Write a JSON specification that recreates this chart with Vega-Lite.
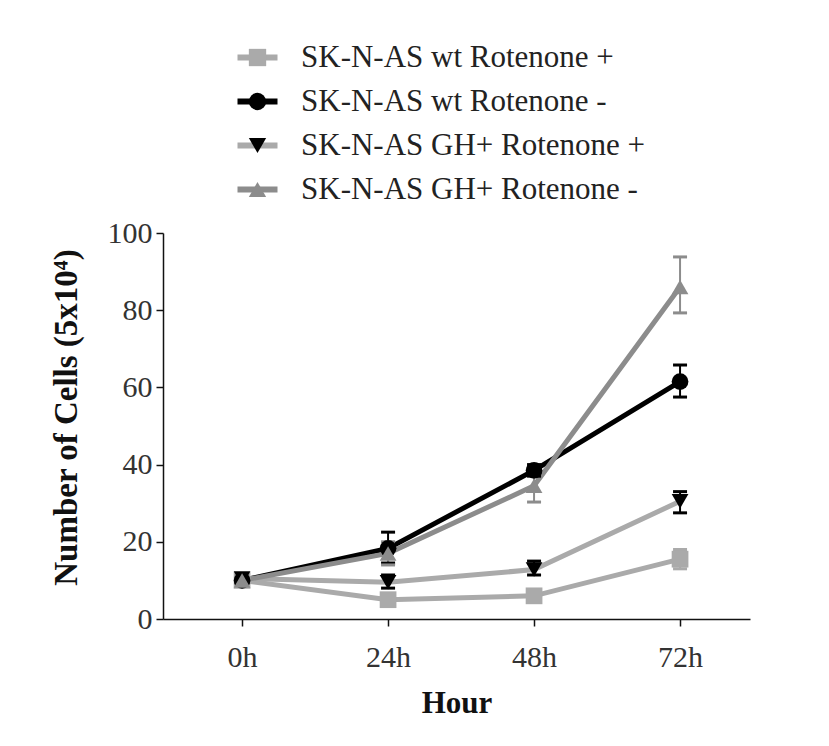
{
  "$schema": "https://vega.github.io/schema/vega-lite/v6.json",
  "autosize": {"type": "none"},
  "padding": {"left": 163, "top": 233, "right": 79, "bottom": 127},
  "width": 587,
  "height": 386,
  "background": "white",
  "config": {
    "font": "Liberation Serif",
    "view": {"stroke": null},
    "legend": {"labelFont": "Liberation Serif", "labelFontSize": 31, "labelLimit": 600},
    "axis": {"grid": false, "domainColor": "#111", "tickColor": "#111", "domainWidth": 1.5, "tickWidth": 1.5, "tickSize": 7, "labelColor": "#333", "labelFont": "Liberation Serif", "labelFontSize": 30, "titleFont": "Liberation Serif", "titleFontSize": 31, "titleFontWeight": "bold", "titleColor": "#111"}
  },
  "data": {
    "values": [
      {"hour": 0, "series": "SK-N-AS wt Rotenone +", "value": 10, "lo": null, "hi": null},
      {"hour": 24, "series": "SK-N-AS wt Rotenone +", "value": 5, "lo": 4, "hi": 6},
      {"hour": 48, "series": "SK-N-AS wt Rotenone +", "value": 6, "lo": 5, "hi": 7},
      {"hour": 72, "series": "SK-N-AS wt Rotenone +", "value": 15.5, "lo": 13, "hi": 18},
      {"hour": 0, "series": "SK-N-AS wt Rotenone -", "value": 10, "lo": null, "hi": null},
      {"hour": 24, "series": "SK-N-AS wt Rotenone -", "value": 18.3, "lo": 14.5, "hi": 22.5},
      {"hour": 48, "series": "SK-N-AS wt Rotenone -", "value": 38.5, "lo": 37, "hi": 40},
      {"hour": 72, "series": "SK-N-AS wt Rotenone -", "value": 61.5, "lo": 57.5, "hi": 65.8},
      {"hour": 0, "series": "SK-N-AS GH+ Rotenone +", "value": 10.5, "lo": null, "hi": null},
      {"hour": 24, "series": "SK-N-AS GH+ Rotenone +", "value": 9.5, "lo": 8, "hi": 11.4},
      {"hour": 48, "series": "SK-N-AS GH+ Rotenone +", "value": 12.8, "lo": 11.4, "hi": 15},
      {"hour": 72, "series": "SK-N-AS GH+ Rotenone +", "value": 30.5, "lo": 27.5, "hi": 33},
      {"hour": 0, "series": "SK-N-AS GH+ Rotenone -", "value": 10, "lo": null, "hi": null},
      {"hour": 24, "series": "SK-N-AS GH+ Rotenone -", "value": 17, "lo": 14, "hi": 20},
      {"hour": 48, "series": "SK-N-AS GH+ Rotenone -", "value": 34.5, "lo": 30.3, "hi": 38.5},
      {"hour": 72, "series": "SK-N-AS GH+ Rotenone -", "value": 86, "lo": 79.3, "hi": 93.8}
    ]
  },
  "encoding": {
    "x": {"field": "hour", "type": "quantitative", "scale": {"domain": [-13, 83.5], "nice": false, "zero": false},
      "axis": {"values": [0, 24, 48, 72], "labelExpr": "datum.value + 'h'", "title": "Hour", "labelPadding": 16, "titlePadding": 16}}
  },
  "layer": [
    {
      "mark": {"type": "line", "strokeWidth": 5},
      "encoding": {
        "y": {"field": "value", "type": "quantitative", "scale": {"domain": [0, 100], "nice": false},
          "axis": {"values": [0, 20, 40, 60, 80, 100], "title": "Number of Cells (5x10⁴)", "titleFontSize": 33, "titleY": 184, "labelPadding": 4, "titlePadding": 24}},
        "stroke": {"field": "series", "type": "nominal",
          "sort": ["SK-N-AS wt Rotenone +", "SK-N-AS wt Rotenone -", "SK-N-AS GH+ Rotenone +", "SK-N-AS GH+ Rotenone -"],
          "scale": {"range": ["#aaaaaa", "#000000", "#aaaaaa", "#8c8c8c"]},
          "legend": {"orient": "none", "legendX": 79, "legendY": -191, "title": null, "symbolType": "M-2,0L2,0", "symbolSize": 400, "symbolStrokeWidth": 6, "labelFontSize": 31, "labelFont": "Liberation Serif", "labelColor": "transparent", "labelLimit": 600, "labelOffset": 28, "rowPadding": 12}}
      }
    },
    {
      "mark": {"type": "rule", "strokeWidth": 2},
      "encoding": {
        "y": {"field": "lo", "type": "quantitative"},
        "y2": {"field": "hi"},
        "color": {"condition": [{"test": "datum.series === 'SK-N-AS wt Rotenone +'", "value": "#aaaaaa"}, {"test": "datum.series === 'SK-N-AS GH+ Rotenone -'", "value": "#8c8c8c"}], "value": "#000000"}
      }
    },
    {
      "mark": {"type": "point", "shape": "stroke", "size": 196, "strokeWidth": 3, "opacity": 1},
      "encoding": {
        "y": {"field": "lo", "type": "quantitative"},
        "color": {"condition": [{"test": "datum.series === 'SK-N-AS wt Rotenone +'", "value": "#aaaaaa"}, {"test": "datum.series === 'SK-N-AS GH+ Rotenone -'", "value": "#8c8c8c"}], "value": "#000000"}
      }
    },
    {
      "mark": {"type": "point", "shape": "stroke", "size": 196, "strokeWidth": 3, "opacity": 1},
      "encoding": {
        "y": {"field": "hi", "type": "quantitative"},
        "color": {"condition": [{"test": "datum.series === 'SK-N-AS wt Rotenone +'", "value": "#aaaaaa"}, {"test": "datum.series === 'SK-N-AS GH+ Rotenone -'", "value": "#8c8c8c"}], "value": "#000000"}
      }
    },
    {
      "mark": {"type": "point", "filled": true, "opacity": 1, "size": 280},
      "encoding": {
        "y": {"field": "value", "type": "quantitative"},
        "fill": {"field": "series", "type": "nominal",
          "scale": {"domain": ["SK-N-AS wt Rotenone +", "SK-N-AS wt Rotenone -", "SK-N-AS GH+ Rotenone +", "SK-N-AS GH+ Rotenone -"], "range": ["#aaaaaa", "#000000", "#000000", "#8c8c8c"]},
          "legend": {"orient": "none", "legendX": 79, "legendY": -191, "title": null, "symbolSize": 300, "symbolStrokeWidth": 0, "labelFontSize": 31, "labelFont": "Liberation Serif", "labelColor": "#222", "labelLimit": 600, "labelOffset": 28, "rowPadding": 12, "symbolOpacity": 1}},
        "shape": {"field": "series", "type": "nominal",
          "scale": {"domain": ["SK-N-AS wt Rotenone +", "SK-N-AS wt Rotenone -", "SK-N-AS GH+ Rotenone +", "SK-N-AS GH+ Rotenone -"], "range": ["square", "circle", "triangle-down", "triangle-up"]},
          "legend": {"orient": "none", "legendX": 79, "legendY": -191, "title": null, "symbolSize": 300, "symbolStrokeWidth": 0, "labelFontSize": 31, "labelFont": "Liberation Serif", "labelColor": "#222", "labelLimit": 600, "labelOffset": 28, "rowPadding": 12, "symbolOpacity": 1}}
      }
    }
  ],
  "resolve": {"scale": {"y": "shared"}}
}
